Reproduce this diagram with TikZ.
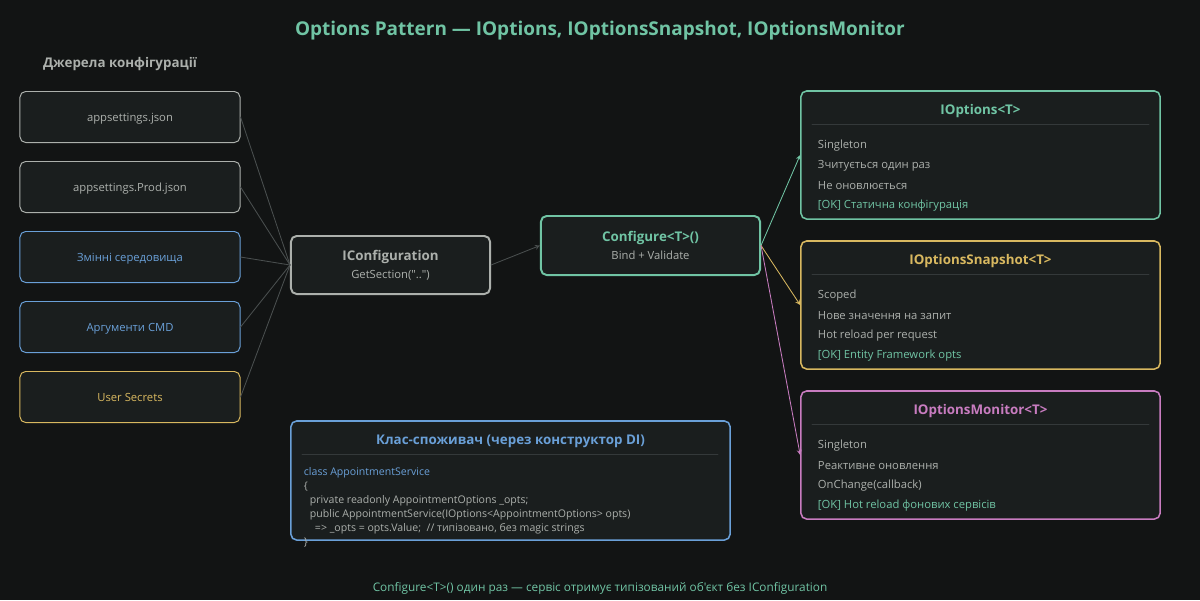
\documentclass[tikz,border=0pt]{standalone}
\usepackage{fontspec}
\setmainfont{Open Sans}[Ligatures=TeXOff]
\usetikzlibrary{positioning}
\definecolor{bgc}{HTML}{121414}
\definecolor{boxc}{HTML}{1A1E1E}
\definecolor{greenc}{HTML}{70C4A4}
\definecolor{grayc}{HTML}{ACB0AC}
\definecolor{bluec}{HTML}{6AA0D8}
\definecolor{yellowc}{HTML}{D8B860}
\definecolor{pinkc}{HTML}{C87CC0}
\definecolor{sepc}{HTML}{34393A}
\definecolor{linkc}{HTML}{4A4F4F}
\begin{document}
\begin{tikzpicture}[x=0.025cm,y=-0.025cm,line join=round,line cap=round,>=stealth,font=\fontsize{8}{10}\selectfont]
	\tikzset{srcbox/.style={draw,fill=boxc,rounded corners=4pt,line width=0.7pt,minimum width=5.5cm,minimum height=1.275cm,text depth=0pt},
		midbox/.style={draw,fill=boxc,rounded corners=4pt,line width=1.4pt,align=center,text=grayc},
		optbox/.style={draw,fill=boxc,rounded corners=4pt,line width=1.1pt,minimum width=8.975cm,minimum height=3.2cm},
		head/.style={font=\fontsize{9.5}{11}\bfseries},
		item/.style={anchor=west,text=grayc},
		code/.style={anchor=west,text=grayc,font=\fontsize{7.5}{8}\selectfont},
		link/.style={linkc,line width=0.6pt}}
	\fill[bgc] (0,0) rectangle (1200,600);
	\useasboundingbox (0,0) rectangle (1200,600);
	\node[greenc,font=\fontsize{13.5}{15}\bfseries] (title) at (600,31) {Options Pattern — IOptions, IOptionsSnapshot, IOptionsMonitor};
	\node[grayc,head] (srchead) at (120,64) {Джерела конфігурації};
	% sources
	\foreach \y/\c/\t/\n in {117/grayc/appsettings.json/s1,187/grayc/appsettings.Prod.json/s2,257/bluec/Змінні середовища/s3,327/bluec/Аргументи CMD/s4,397/yellowc/User Secrets/s5}
	\node[srcbox,draw=\c,text=\c] (\n) at (130,\y) {\t};
	\node[midbox,draw=grayc,minimum width=4.975cm,minimum height=1.45cm] (cfg) at (390.5,265) {{\fontsize{9.5}{11}\bfseries IConfiguration}\\[3pt]GetSection("..")};
	\foreach \n in {s1,s2,s3,s4,s5}
	\draw[link] (\n.east)--(cfg.west);
	\node[midbox,draw=greenc,minimum width=5.475cm,minimum height=1.475cm] (conf) at (650.5,245.5) {{\fontsize{9.5}{11}\bfseries\color{greenc}Configure<T>()}\\[3pt]Bind + Validate};
	\draw[->,linkc,line width=0.6pt] (cfg.east)--(conf.west);
	% options
	\foreach \n/\y/\c/\t in {opt/155/greenc/IOptions<T>,snap/305/yellowc/IOptionsSnapshot<T>,mon/455/pinkc/IOptionsMonitor<T>}{
		\node[optbox,draw=\c] (\n) at (980.5,\y) {};
		\node[head,text=\c] (\n-t) at (980.5,{\y-44}) {\t};
		\draw[sepc,line width=0.6pt] (812,{\y-31})--(1149,{\y-31});
		\draw[->,\c,line width=0.6pt] (conf.east)--(\n.west);
	}
	\foreach \i/\t in {0/Singleton,1/Зчитується один раз,2/Не оновлюється}
	\node[item] (opt-\i) at (813,{146+20*\i}) {\t};
	\node[item,text=greenc] (opt-3) at (813,206) {[OK] Статична конфігурація};
	\foreach \i/\t in {0/Scoped,1/Нове значення на запит,2/Hot reload per request}
	\node[item] (snap-\i) at (813,{296+20*\i}) {\t};
	\node[item,text=greenc] (snap-3) at (813,356) {[OK] Entity Framework opts};
	\foreach \i/\t in {0/Singleton,1/Реактивне оновлення,2/OnChange(callback)}
	\node[item] (mon-\i) at (813,{446+20*\i}) {\t};
	\node[item,text=greenc] (mon-3) at (813,506) {[OK] Hot reload фонових сервісів};
	% consumer
	\node[draw=bluec,fill=boxc,rounded corners=4pt,line width=1.1pt,minimum width=10.975cm,minimum height=2.975cm] (cons) at (510.5,480.5) {};
	\node[head,text=bluec] (cons-t) at (510.5,441) {Клас-споживач (через конструктор DI)};
	\draw[sepc,line width=0.6pt] (302,454)--(718,454);
	\node[code,text=bluec] (c1) at (299,473) {class AppointmentService};
	\node[code] (c2) at (299,487) {\{};
	\node[code] (c3) at (305,501) {private readonly AppointmentOptions \_opts;};
	\node[code] (c4) at (305,515) {public AppointmentService(IOptions<AppointmentOptions> opts)};
	\node[code] (c5) at (310,529) {=> \_opts = opts.Value;~ // типізовано, без magic strings};
	\node[code] (c6) at (299,543) {\}};
	\node[greenc,font=\fontsize{8.4}{10}\selectfont] (foot) at (600,588) {Configure<T>() один раз — сервіс отримує типізований об'єкт без IConfiguration};
\end{tikzpicture}
\end{document}
